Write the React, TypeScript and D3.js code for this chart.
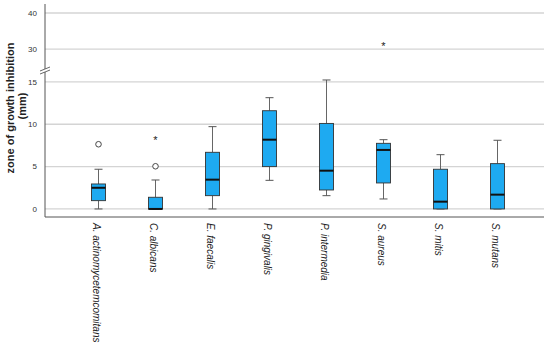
import React from 'react';
import * as d3 from 'd3';

const categories = [
  'A. actinomycetemcomitans',
  'C. albicans',
  'E. faecalis',
  'P. gingivalis',
  'P. intermedia',
  'S. aureus',
  'S. mitis',
  'S. mutans',
];
const whiskerLow = [0, 0, 0, 3.38, 1.57, 1.18, 0, 0];
const q1 = [0.98, 0, 1.57, 5.0, 2.24, 3.07, 0, 0];
const median = [2.5, 0, 3.46, 8.18, 4.52, 6.97, 0.86, 1.69];
const q3 = [2.95, 1.38, 6.69, 11.6, 10.1, 7.75, 4.69, 5.35];
const whiskerHigh = [4.69, 3.42, 9.72, 13.14, 15.23, 8.18, 6.41, 8.11];
// mild outliers (circles) and extremes (stars), by category index
const outliers = [[7.64], [5.04], [], [], [], [], [], []];
const extremes = [[], [8.54], [], [], [], [32.0], [], []];

const lowTicks = [0, 5, 10, 15];
const highTicks = [30, 40];

const width = 550;
const height = 354;
const axisX = 45;
const plotRight = 544;
const baseY = 217;
const fontFamily = '"Liberation Sans", Arial, sans-serif';

export default function App() {
  const x = d3.scaleBand<string>().domain(categories).range([70, 526]);
  const yLow = d3.scaleLinear().domain([-0.95, 15.7]).range([baseY, 76]);
  const yHigh = d3.scaleLinear().domain([24.2, 42.5]).range([70, 4]);
  const yFor = (v: number) => (v > 20 ? yHigh(v) : yLow(v));

  const boxW = 14;
  const capW = 8;

  return (
    <svg width={width} height={height} style={{ display: 'block', position: 'absolute', left: 0, top: 0 }}
      fontFamily={fontFamily}>
      <rect width={width} height={height} fill="#fff" />

      {/* gridlines */}
      {highTicks.map(t => (
        <line key={'gh' + t} x1={axisX} x2={plotRight} y1={yHigh(t)} y2={yHigh(t)} stroke="#d4d4d4" strokeWidth={1.3} />
      ))}
      {lowTicks.map(t => (
        <line key={'gl' + t} x1={axisX} x2={plotRight} y1={yLow(t)} y2={yLow(t)} stroke="#d4d4d4" strokeWidth={1.3} />
      ))}

      {/* tick labels */}
      {highTicks.map(t => (
        <text key={'th' + t} x={axisX - 8} y={yHigh(t)} dy="0.35em" textAnchor="end" fontSize={8} fill="#333">{t}</text>
      ))}
      {lowTicks.map(t => (
        <text key={'tl' + t} x={axisX - 8} y={yLow(t)} dy="0.35em" textAnchor="end" fontSize={8} fill="#333">{t}</text>
      ))}

      {/* y axis with break */}
      <line x1={axisX} x2={axisX} y1={4} y2={69} stroke="#555" strokeWidth={1} />
      <line x1={axisX} x2={axisX} y1={72} y2={baseY} stroke="#555" strokeWidth={1} />
      <line x1={40} y1={71} x2={50} y2={67} stroke="#555" strokeWidth={0.9} />
      <line x1={40} y1={74} x2={50} y2={70} stroke="#555" strokeWidth={0.9} />

      {/* x axis */}
      <line x1={axisX} x2={plotRight} y1={baseY} y2={baseY} stroke="#555" strokeWidth={1} />

      {/* boxes */}
      {categories.map((c, i) => {
        const cx = (x(c) as number) + x.bandwidth() / 2;
        return (
          <g key={c}>
            <line x1={cx} x2={cx} y1={yLow(whiskerHigh[i])} y2={yLow(q3[i])} stroke="#666" strokeWidth={1} />
            <line x1={cx} x2={cx} y1={yLow(q1[i])} y2={yLow(whiskerLow[i])} stroke="#666" strokeWidth={1} />
            <line x1={cx - capW / 2} x2={cx + capW / 2} y1={yLow(whiskerHigh[i])} y2={yLow(whiskerHigh[i])} stroke="#555" strokeWidth={1} />
            <line x1={cx - capW / 2} x2={cx + capW / 2} y1={yLow(whiskerLow[i])} y2={yLow(whiskerLow[i])} stroke="#555" strokeWidth={1} />
            <rect x={cx - boxW / 2} y={yLow(q3[i])} width={boxW} height={yLow(q1[i]) - yLow(q3[i])}
              fill="#1eaaf1" stroke="#333" strokeWidth={0.9} />
            <line x1={cx - boxW / 2} x2={cx + boxW / 2} y1={yLow(median[i])} y2={yLow(median[i])} stroke="#111" strokeWidth={2} />
            {outliers[i].map((v, k) => (
              <circle key={'o' + k} cx={cx} cy={yFor(v)} r={2.8} fill="#fff" stroke="#333" strokeWidth={0.9} />
            ))}
            {extremes[i].map((v, k) => (
              <text key={'e' + k} x={cx} y={yFor(v)} dy="0.7em" textAnchor="middle" fontSize={11} fill="#222">*</text>
            ))}
            <text transform={`translate(${cx - 5.5},${baseY + 6}) rotate(90)`} fontSize={10} fontStyle="italic" fill="#222">{c}</text>
          </g>
        );
      })}

      {/* y axis title */}
      <text transform="translate(14,108) rotate(-90)" textAnchor="middle" fontSize={11} fontWeight="bold" fill="#222">
        zone of growth inhibition
      </text>
      <text transform="translate(26,106) rotate(-90)" textAnchor="middle" fontSize={11} fontWeight="bold" fill="#222">
        (mm)
      </text>
    </svg>
  );
}
